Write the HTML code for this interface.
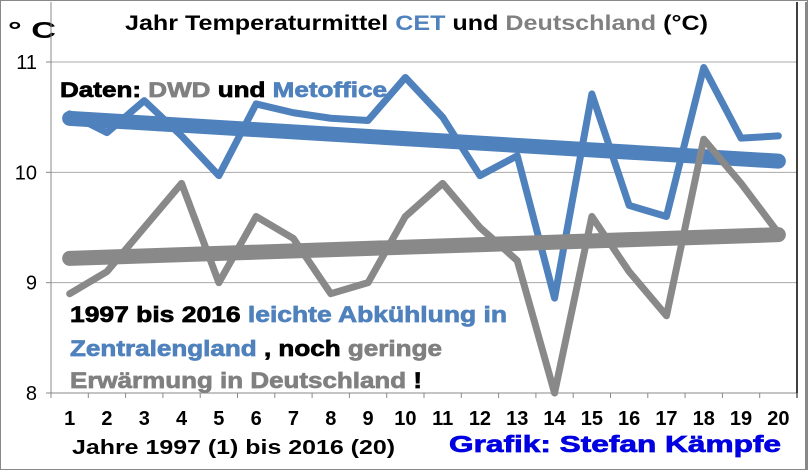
<!DOCTYPE html>
<html><head><meta charset="utf-8"><style>
body{margin:0;background:#fff;}
svg{display:block;font-family:"Liberation Sans",Arial,sans-serif;font-weight:bold;}
.hv tspan,.hv{stroke-width:0.7px;paint-order:stroke;}
</style></head><body>
<svg id="c" width="809" height="471" viewBox="0 0 809 471">
<rect x="0.5" y="0.5" width="807" height="469" fill="#fff" stroke="#888"/>
<line x1="806" y1="2" x2="806" y2="469" stroke="#888" stroke-width="2"/>
<text x="125" y="30" font-size="21" textLength="583" lengthAdjust="spacingAndGlyphs"><tspan fill="#000">Jahr Temperaturmittel </tspan><tspan fill="#4f81bd">CET</tspan><tspan fill="#000"> und </tspan><tspan fill="#808080">Deutschland</tspan><tspan fill="#000"> (°C)</tspan></text>
<text x="8" y="38" font-size="23" fill="#000" textLength="48" lengthAdjust="spacingAndGlyphs">° C</text>
<g id="grid"></g>
<g id="marks"></g>
<text class="hv" x="60" y="97" font-size="21" textLength="327" lengthAdjust="spacingAndGlyphs"><tspan fill="#000" stroke="#000">Daten: </tspan><tspan fill="#808080" stroke="#808080">DWD</tspan><tspan fill="#000" stroke="#000"> und </tspan><tspan fill="#4f81bd" stroke="#4f81bd">Metoffice</tspan></text>
<text class="hv" x="70" y="322" font-size="22" textLength="437" lengthAdjust="spacingAndGlyphs"><tspan fill="#000" stroke="#000">1997 bis 2016 </tspan><tspan fill="#4f81bd" stroke="#4f81bd">leichte Abkühlung in</tspan></text>
<text class="hv" x="70" y="356" font-size="22" textLength="372" lengthAdjust="spacingAndGlyphs"><tspan fill="#4f81bd" stroke="#4f81bd">Zentralengland</tspan><tspan fill="#000" stroke="#000"> , noch </tspan><tspan fill="#808080" stroke="#808080">geringe</tspan></text>
<text class="hv" x="70" y="388" font-size="22" textLength="352" lengthAdjust="spacingAndGlyphs"><tspan fill="#808080" stroke="#808080">Erwärmung in Deutschland</tspan><tspan fill="#000" stroke="#000"> !</tspan></text>
<text x="72" y="454" font-size="20" fill="#000" textLength="323" lengthAdjust="spacingAndGlyphs">Jahre 1997 (1) bis 2016 (20)</text>
<text class="hv" x="449" y="452" font-size="23" fill="#0000e0" stroke="#0000e0" textLength="332" lengthAdjust="spacingAndGlyphs">Grafik: Stefan Kämpfe</text>
</svg>
<script>
const categories=[1,2,3,4,5,6,7,8,9,10,11,12,13,14,15,16,17,18,19,20];
const cetValues=[10.53,10.36,10.65,10.33,9.97,10.62,10.54,10.49,10.47,10.86,10.50,9.97,10.15,8.86,10.71,9.70,9.60,10.95,10.31,10.33];
const deValues=[8.9,9.1,9.5,9.9,9.0,9.6,9.4,8.9,9.0,9.6,9.9,9.5,9.2,8.0,9.6,9.1,8.7,10.3,9.9,9.45];
const yTicks=[8,9,10,11];
const NS="http://www.w3.org/2000/svg";
const L=51,R=797,T=62,B=393,ymin=8,ymax=11;
const step=(R-L)/categories.length;
function x(i){return L+step*(i+0.5);}
function y(v){return B-(v-ymin)/(ymax-ymin)*(B-T);}
function mk(tag,attrs,parent){const e=document.createElementNS(NS,tag);for(const k in attrs)e.setAttribute(k,attrs[k]);parent.appendChild(e);return e;}
const grid=document.getElementById('grid'),marks=document.getElementById('marks');
yTicks.forEach(t=>{
  const g=mk('line',{x1:L,x2:R,y1:y(t),y2:y(t),stroke:'#aaa','stroke-width':1},grid);
  
  
  mk('line',{x1:L-5,x2:L,y1:y(t),y2:y(t),stroke:'#888'},grid);
  const tx=mk('text',{x:L-14,y:y(t)+7,'font-size':20,'text-anchor':'end',fill:'#000','font-weight':'normal'},grid);
  tx.textContent=t;
  
  
});
mk('line',{x1:L,x2:L,y1:2,y2:B+5,stroke:'#888'},grid);
mk('line',{x1:L,x2:R,y1:B,y2:B,stroke:'#888'},grid);
mk('line',{x1:R,x2:R,y1:2,y2:B+5,stroke:'#000','stroke-width':1.5},grid);
for(let i=0;i<=categories.length;i++){mk('line',{x1:L+step*i,x2:L+step*i,y1:B,y2:B+5,stroke:'#888'},grid);}
categories.forEach((c,i)=>{
  const t=mk('text',{x:x(i),y:425,'font-size':20,'text-anchor':'middle',fill:'#000'},grid);
  t.textContent=c;
  
  
});
function trend(vals){const n=vals.length;let sx=0,sy=0,sxy=0,sxx=0;vals.forEach((v,i)=>{sx+=i;sy+=v;sxy+=i*v;sxx+=i*i;});const b=(n*sxy-sx*sy)/(n*sxx-sx*sx);const a=(sy-b*sx)/n;return [a,a+b*(n-1)];}
function series(vals,color,name){
  const p=mk('polyline',{points:vals.map((v,i)=>x(i)+','+y(v)).join(' '),fill:'none',stroke:color,'stroke-width':7,'stroke-linejoin':'round','stroke-linecap':'round'},marks);
  
  
  const tr=trend(vals);
  const l=mk('line',{x1:x(0),y1:y(tr[0]),x2:x(vals.length-1),y2:y(tr[1]),stroke:color,'stroke-width':15,'stroke-linecap':'round'},marks);
  
  
}
series(cetValues,'#4f81bd','cet');
series(deValues,'#898989','deutschland');
</script>
</body></html>
